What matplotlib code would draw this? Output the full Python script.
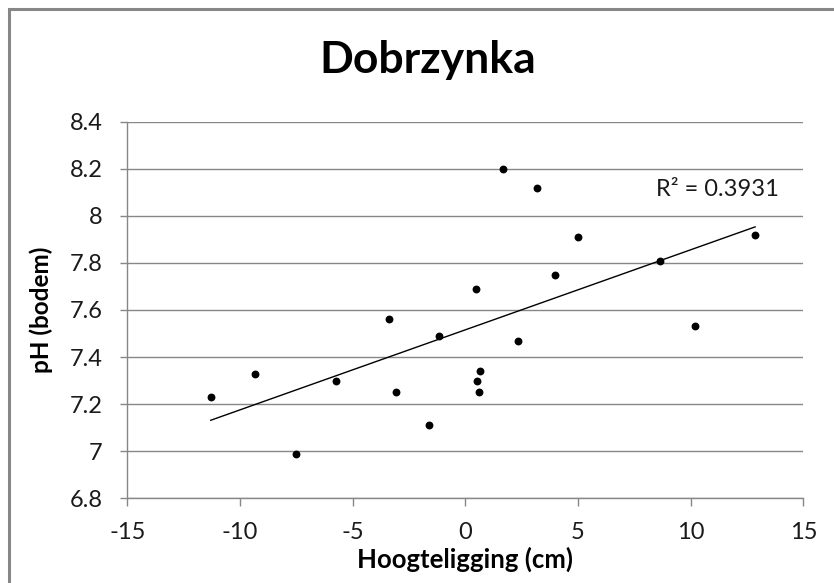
import numpy as np
import matplotlib
matplotlib.use("Agg")
import matplotlib.pyplot as plt
from matplotlib.patches import Rectangle

plt.rcParams['font.family'] = ['Lato', 'DejaVu Sans']
plt.rcParams['axes.unicode_minus'] = False

# elevation (cm) vs soil pH, Dobrzynka plots
hoogte = [-11.30, -9.33, -7.50, -5.76, -3.37, -3.09, -1.63, -1.15, 0.47, 0.52,
          0.59, 0.65, 1.65, 2.35, 3.16, 3.99, 5.00, 8.66, 10.18, 12.86]
ph = [7.23, 7.33, 6.99, 7.30, 7.56, 7.25, 7.11, 7.49, 7.69, 7.30,
      7.25, 7.34, 8.20, 7.47, 8.12, 7.75, 7.91, 7.81, 7.53, 7.92]
r2_label = "R² = 0.3931"

x_ticks = [-15, -10, -5, 0, 5, 10, 15]
y_ticks = [6.8, 7.0, 7.2, 7.4, 7.6, 7.8, 8.0, 8.2, 8.4]
y_ticklabels = ["6.8", "7", "7.2", "7.4", "7.6", "7.8", "8", "8.2", "8.4"]

grey = "#878787"
ink = "#1a1a1a"

fig = plt.figure(figsize=(8.34, 5.83), dpi=100)
fig.patches.append(Rectangle((9 / 834, -0.1), 1.2, 1.1 - 9 / 583,
                             transform=fig.transFigure, fill=False,
                             edgecolor=grey, linewidth=2.2))

ax = fig.add_axes([0.1527, 0.1453, 0.9632 - 0.1527, 0.7913 - 0.1453])

ax.scatter(hoogte, ph, s=32, color="black", zorder=3, linewidths=0)

# linear trendline over the data range
coef = np.polyfit(hoogte, ph, 1)
xs = np.array([min(hoogte), max(hoogte)])
ax.plot(xs, np.polyval(coef, xs), color="black", linewidth=1.0, zorder=2)

ax.text(8.45, 8.11, r2_label, fontsize=17, color=ink, va="center", ha="left")

ax.set_xlim(-15, 15)
ax.set_ylim(6.8, 8.4)
ax.set_xticks(x_ticks)
ax.set_yticks(y_ticks)
ax.set_yticklabels(y_ticklabels)
ax.grid(axis="y", color=grey, linewidth=1.0)
ax.set_axisbelow(True)

for side in ["top", "right"]:
    ax.spines[side].set_visible(False)
for side in ["left", "bottom"]:
    ax.spines[side].set_color(grey)
    ax.spines[side].set_linewidth(1.0)

ax.tick_params(axis="x", direction="out", length=6, width=1, color=grey,
               labelsize=17, pad=11, labelcolor=ink)
ax.tick_params(axis="y", direction="out", length=5, width=1, color=grey,
               labelsize=17, pad=13, labelcolor=ink)

fig.text(428 / 834, 1 - 60 / 583, "Dobrzynka", fontsize=32, fontweight="bold",
         ha="center", va="center", color="black")
ax.set_xlabel("Hoogteligging (cm)", fontsize=18.5, fontweight="bold", labelpad=3)
ax.set_ylabel("pH (bodem)", fontsize=17.5, fontweight="bold", labelpad=12)

fig.savefig("out.png", dpi=100)
